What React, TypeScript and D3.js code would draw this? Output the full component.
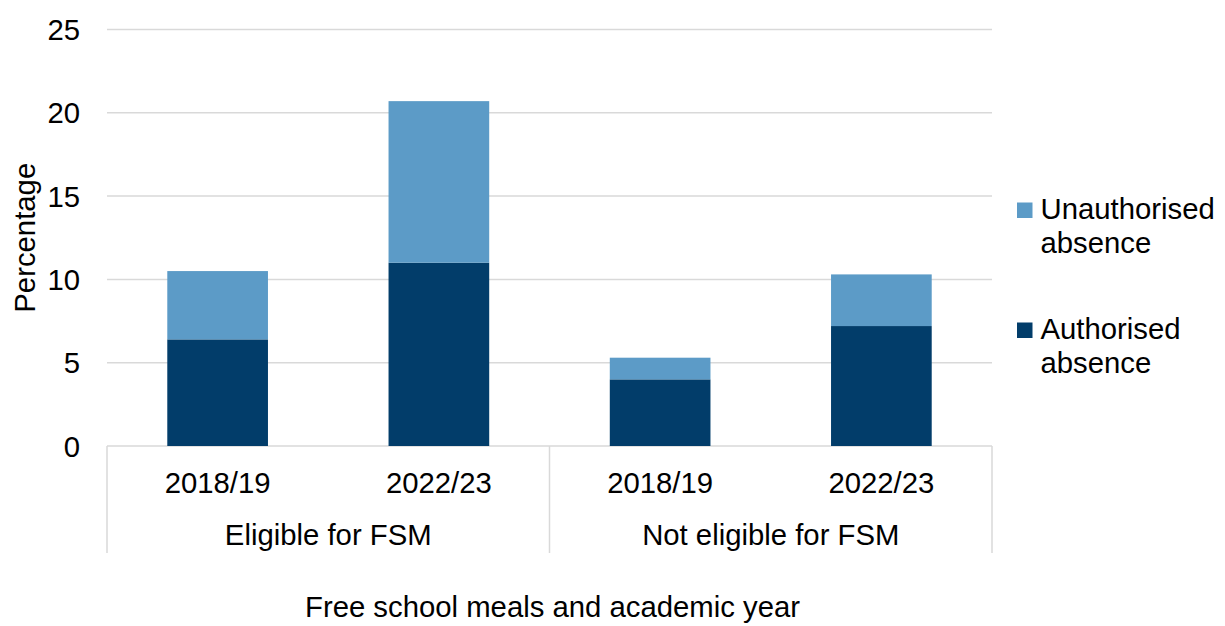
import React from "react";
import * as d3 from "d3";

const groups = ["Eligible for FSM", "Not eligible for FSM"];
const years = ["2018/19", "2022/23", "2018/19", "2022/23"];
const groupOf = [0, 0, 1, 1];
const authorised = [6.4, 11.0, 4.0, 7.2];
const unauthorised = [4.1, 9.7, 1.3, 3.1];
const yTicks = [0, 5, 10, 15, 20, 25];
const seriesNames = ["Unauthorised absence", "Authorised absence"];

const DARK = "#023d6a";
const LIGHT = "#5c9bc7";
const GRID = "#d9d9d9";
const FONT = "'Liberation Sans', Arial, sans-serif";
const FS = 29.3;

export default function App() {
  const left = 107, right = 992, top = 29.5, bottom = 446;
  const idx = years.map((_, i) => i);
  const x = d3.scaleBand<number>().domain(idx).range([left, right]).paddingInner(0.545).paddingOuter(0.2725);
  const y = d3.scaleLinear().domain([0, 25]).range([bottom, top]);
  const step = (right - left) / years.length;
  const groupBounds = groups.map((_, g) => {
    const members = idx.filter((i) => groupOf[i] === g);
    const x0 = x(members[0])! - (x.step() - x.bandwidth()) / 2;
    const x1 = x(members[members.length - 1])! + x.bandwidth() + (x.step() - x.bandwidth()) / 2;
    return [x0, x1];
  });
  const sepXs = [left, ...groupBounds.map((b) => b[1])];

  return (
    <svg width={1225} height={626} style={{ position: "absolute", left: 0, top: 0, background: "#fff" }} fontFamily={FONT}>
      {yTicks.map((t) => (
        <g key={t}>
          <line x1={left} x2={right} y1={y(t)} y2={y(t)} stroke={GRID} strokeWidth={1.5} />
          <text x={80} y={y(t)} dy="0.36em" textAnchor="end" fontSize={FS} fill="#000">{t}</text>
        </g>
      ))}
      {sepXs.map((sx, i) => (
        <line key={i} x1={sx} x2={sx} y1={bottom} y2={553} stroke={GRID} strokeWidth={1.5} />
      ))}
      {idx.map((i) => (
        <g key={i}>
          <rect x={x(i)} width={x.bandwidth()} y={y(authorised[i])} height={y(0) - y(authorised[i])} fill={DARK} />
          <rect x={x(i)} width={x.bandwidth()} y={y(authorised[i] + unauthorised[i])} height={y(authorised[i]) - y(authorised[i] + unauthorised[i])} fill={LIGHT} />
          <text x={x(i)! + x.bandwidth() / 2} y={492.5} textAnchor="middle" fontSize={FS} fill="#000">{years[i]}</text>
        </g>
      ))}
      {groups.map((g, gi) => (
        <text key={g} x={(groupBounds[gi][0] + groupBounds[gi][1]) / 2} y={545} textAnchor="middle" fontSize={FS} fill="#000">{g}</text>
      ))}
      <text x={(left + right) / 2 + 3} y={617} textAnchor="middle" fontSize={FS} fill="#000">Free school meals and academic year</text>
      <text transform={`translate(34.5, ${(top + bottom) / 2}) rotate(-90)`} textAnchor="middle" fontSize={FS} fill="#000">Percentage</text>
      {seriesNames.map((name, i) => {
        const words = name.split(" ");
        const by = 219 + i * 120;
        return (
          <g key={name}>
            <rect x={1017} y={by - 16.5} width={15.5} height={15.5} fill={i === 0 ? LIGHT : DARK} />
            <text x={1040.5} y={by} fontSize={FS} fill="#000">{words[0]}</text>
            <text x={1040.5} y={by + 34} fontSize={FS} fill="#000">{words[1]}</text>
          </g>
        );
      })}
    </svg>
  );
}
